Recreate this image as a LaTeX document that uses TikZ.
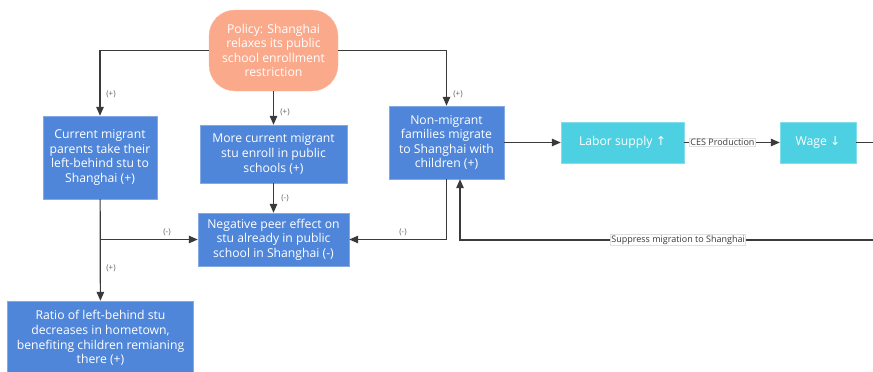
\documentclass[tikz,border=0pt]{standalone}
\usepackage{fontspec}
\setmainfont{Open Sans}
\newfontfamily\symfont{DejaVu Sans}
\usetikzlibrary{arrows.meta, positioning}
\definecolor{boxblue}{HTML}{4F86DA}
\definecolor{boxcyan}{HTML}{4DD0E1}
\definecolor{policyred}{HTML}{FBA98B}
\definecolor{linegray}{HTML}{3A3A3A}

\begin{document}
\begin{tikzpicture}[
    x=1pt, y=-1pt,
    font=\fontsize{12.2}{14.6}\selectfont,
    effect/.style={rectangle, draw=boxblue!70!white, fill=boxblue, text=white,
                   align=center, inner sep=1pt},
    market/.style={rectangle, draw=boxcyan!70!white, fill=boxcyan, text=white,
                   align=center, inner sep=2pt, minimum height=41pt},
    policy/.style={rectangle, rounded corners=26pt, draw=policyred!80!white,
                   fill=policyred, text=white, align=center, inner sep=1pt,
                   minimum width=129pt, minimum height=81pt},
    arr/.style={draw=linegray, line width=1.2pt, -{Triangle[length=9pt, width=7.5pt]}},
    sign/.style={font=\fontsize{8}{9}\selectfont, text=linegray!80},
    tag/.style={font=\fontsize{9}{10}\selectfont, text=linegray, fill=white,
                draw=gray!25, inner sep=0.8pt},
]
\useasboundingbox (0,0) rectangle (873,372);

% Policy and first-round effects
\node[policy] (pol) at (273.5,50.5) {Policy: Shanghai\\relaxes its public\\school enrollment\\restriction};
\node[effect, minimum width=114pt, minimum height=83pt] (cur) at (100,157.5)
    {Current migrant\\parents take their\\left-behind stu to\\Shanghai (+)};
\node[effect, minimum width=147pt, minimum height=58pt] (more) at (273.5,154)
    {More current migrant\\stu enroll in public\\schools (+)};
\node[effect, minimum width=115pt, minimum height=73pt] (non) at (446.5,142.5)
    {Non-migrant\\families migrate\\to Shanghai with\\children (+)};
\node[effect, minimum width=151pt, minimum height=53pt] (neg) at (273.5,239.5)
    {Negative peer effect on\\stu already in public\\school in Shanghai (-)};
\node[effect, minimum width=186pt, minimum height=74pt] (ratio) at (100.5,338)
    {Ratio of left-behind stu\\decreases in hometown,\\benefiting children remianing\\there (+)};

% Labour market branch
\node[market, minimum width=123pt] (labor) at (622.5,142.5) {Labor supply {\symfont\char"2191}};
\node[market, minimum width=76pt] (wage) at (818,142.5) {Wage {\symfont\char"2193}};
\coordinate (edge) at (873,142.5);
\coordinate (back) at (873,240);
\coordinate (split) at (100,239.5);

% Connections
\draw[arr] (pol.west) -| (cur.north);
\draw[arr] (pol.east) -| (non.north);
\draw[arr] (pol) -- (more);
\draw[arr] (more) -- (neg);
\draw[arr] (cur) -- (ratio);
\draw[arr] (split) -- (neg.west);
\draw[arr] (non.south) |- (neg.east);
\draw[arr] (non) -- (labor);
\draw[arr] (labor) -- node[tag, pos=0.4] {CES Production} (wage);
\draw[draw=linegray, line width=1.2pt] (wage) -- (edge);
\draw[arr] (back) -| node[tag, pos=0.236] {Suppress migration to Shanghai} ([xshift=13.5pt]non.south);

% Signs
\node[sign] (s1) at (111,94) {(+)};
\node[sign] (s2) at (458,94) {(+)};
\node[sign] (s3) at (285,112) {(+)};
\node[sign] (s4) at (285,198) {(-)};
\node[sign] (s5) at (167,232) {(-)};
\node[sign] (s6) at (403,232) {(-)};
\node[sign] (s7) at (111,268) {(+)};

\end{tikzpicture}
\end{document}
